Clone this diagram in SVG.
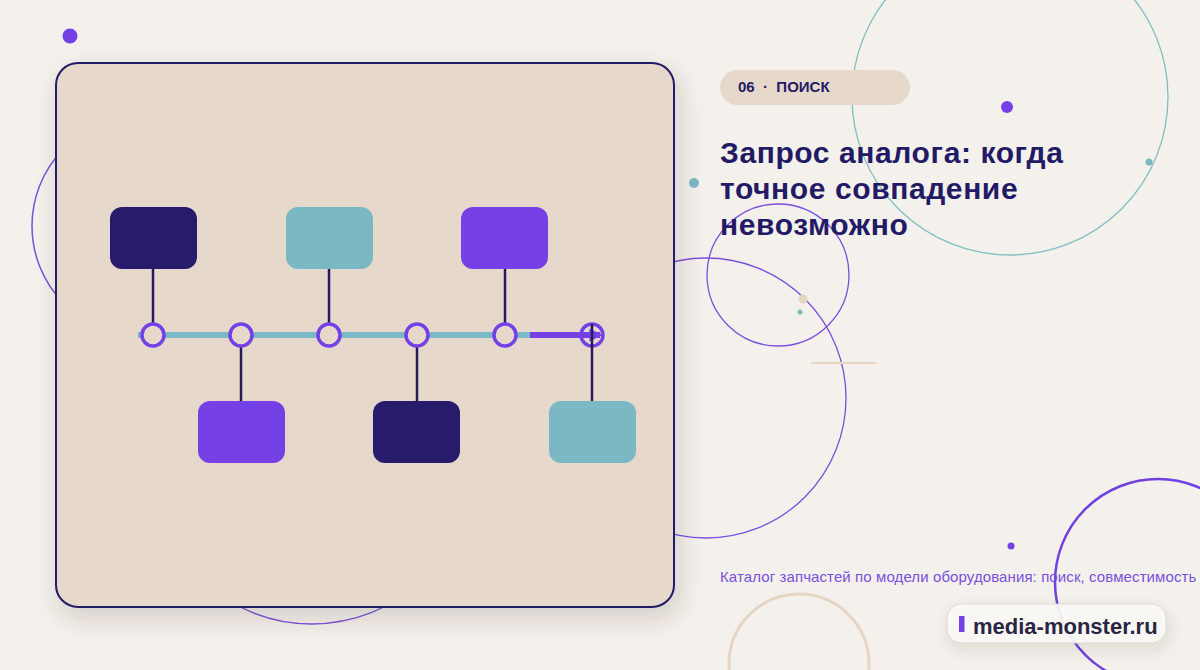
<svg xmlns="http://www.w3.org/2000/svg" width="1200" height="670" viewBox="0 0 1200 670">
  <defs>
    <filter id="shadow" x="-20%" y="-20%" width="140%" height="140%">
      <feDropShadow dx="4" dy="10" stdDeviation="12" flood-color="#3a2a20" flood-opacity="0.18"/>
    </filter>
    <filter id="shadow2" x="-20%" y="-40%" width="140%" height="200%">
      <feDropShadow dx="2" dy="6" stdDeviation="8" flood-color="#3a2a20" flood-opacity="0.12"/>
    </filter>
    <marker id="arrow" viewBox="0 0 10 10" refX="8" refY="5" markerWidth="2.2" markerHeight="2.2" orient="auto">
      <path d="M0,0 L10,5 L0,10 Z" fill="#7540e6"/>
    </marker>
  </defs>
  <style>
    .deco { fill: none; }
    .navy { fill: #261c6b; }
    .teal { fill: #7ab8c4; }
    .purple { fill: #7540e6; }
    .stem { stroke: #241a5e; stroke-width: 2.5; }
    .dot { fill: #e6d9cb; stroke: #7540e6; stroke-width: 3.5; }
    .sans { font-family: "Liberation Sans", Arial, sans-serif; }
  </style>

  <rect width="1200" height="670" fill="#f4f1ec"/>

  <!-- decorative background -->
  <g id="decor">
    <circle class="deco" cx="1010" cy="97" r="158" stroke="#7fbfc2" stroke-width="1.3"/>
    <circle class="deco" cx="778" cy="275" r="71" stroke="#7a4fdc" stroke-width="1.3"/>
    <circle class="deco" cx="706" cy="398" r="140" stroke="#7a4fdc" stroke-width="1.3"/>
    <circle class="deco" cx="142" cy="226" r="110" stroke="#7a4fdc" stroke-width="1.5"/>
    <circle class="deco" cx="312" cy="463" r="161" stroke="#7a4fdc" stroke-width="1.3"/>
    <circle class="deco" cx="1158" cy="582" r="103" stroke="#7040e0" stroke-width="2.5"/>
    <circle class="deco" cx="799" cy="664" r="70" stroke="#e6d5c3" stroke-width="3"/>
    <line x1="811" y1="363" x2="876" y2="363" stroke="#e6d5c3" stroke-width="2"/>
    <circle cx="70" cy="36" r="7.5" fill="#7540e6"/>
    <circle cx="1007" cy="107" r="6" fill="#7540e6"/>
    <circle cx="694" cy="183" r="5" fill="#7ab8c4"/>
    <circle cx="1149" cy="162" r="3.5" fill="#7ab8c4"/>
    <circle cx="803" cy="299" r="4.5" fill="#e6d5c3"/>
    <circle cx="800" cy="312" r="2.5" fill="#7ab8c4"/>
    <circle cx="1011" cy="546" r="3.5" fill="#7540e6"/>
  </g>

  <!-- card -->
  <g id="card">
    <rect x="56" y="63" width="618" height="544" rx="22" fill="#e6d9cb" stroke="#241a66" stroke-width="2" filter="url(#shadow)"/>
  </g>

  <!-- connectors -->
  <g id="connectors">
    <line x1="138" y1="335" x2="532" y2="335" stroke="#7ab8c4" stroke-width="6"/>
    <line x1="530" y1="335" x2="600" y2="335" stroke="#7540e6" stroke-width="6" marker-end="url(#arrow)"/>
    <line class="stem" x1="153" y1="269" x2="153" y2="324"/>
    <line class="stem" x1="329" y1="269" x2="329" y2="324"/>
    <line class="stem" x1="505" y1="269" x2="505" y2="324"/>
    <line class="stem" x1="241" y1="346" x2="241" y2="401"/>
    <line class="stem" x1="417" y1="346" x2="417" y2="401"/>
  </g>

  <!-- timeline points -->
  <g id="point-1"><circle class="dot" cx="153" cy="335" r="11"/></g>
  <g id="point-2"><circle class="dot" cx="241" cy="335" r="11"/></g>
  <g id="point-3"><circle class="dot" cx="329" cy="335" r="11"/></g>
  <g id="point-4"><circle class="dot" cx="417" cy="335" r="11"/></g>
  <g id="point-5"><circle class="dot" cx="505" cy="335" r="11"/></g>
  <g id="point-6">
    <circle cx="592" cy="335" r="11" fill="none" stroke="#7540e6" stroke-width="3.5"/>
    <line x1="530" y1="335" x2="600" y2="335" stroke="#7540e6" stroke-width="6"/>
    <line class="stem" x1="592" y1="324" x2="592" y2="401"/>
  </g>

  <!-- boxes -->
  <g id="box-1"><rect class="navy" x="110" y="207" width="87" height="62" rx="12"/></g>
  <g id="box-2"><rect class="purple" x="198" y="401" width="87" height="62" rx="12"/></g>
  <g id="box-3"><rect class="teal" x="286" y="207" width="87" height="62" rx="12"/></g>
  <g id="box-4"><rect class="navy" x="373" y="401" width="87" height="62" rx="12"/></g>
  <g id="box-5"><rect class="purple" x="461" y="207" width="87" height="62" rx="12"/></g>
  <g id="box-6"><rect class="teal" x="549" y="401" width="87" height="62" rx="12"/></g>

  <!-- right side -->
  <g id="tag">
    <rect x="720" y="70" width="190" height="35" rx="17.5" fill="#e6d8ca"/>
    <text class="sans" x="738" y="92" font-size="15" font-weight="bold" fill="#241a66" xml:space="preserve">06  ·  ПОИСК</text>
  </g>
  <g id="title">
    <text class="sans" font-size="30" font-weight="bold" fill="#231a66" letter-spacing="0.6">
      <tspan x="720" y="163">Запрос аналога: когда</tspan>
      <tspan x="720" y="199">точное совпадение</tspan>
      <tspan x="720" y="235">невозможно</tspan>
    </text>
  </g>
  <g id="subtitle">
    <text class="sans" x="720" y="582" font-size="15" fill="#7a4fdc" letter-spacing="0.1">Каталог запчастей по модели оборудования: поиск, совместимость</text>
  </g>
  <g id="brand">
    <rect x="947" y="604" width="219" height="39" rx="14" fill="#faf8f5" fill-opacity="0.92" stroke="#dcd6d0" stroke-width="1" filter="url(#shadow2)"/>
    <rect x="959" y="616" width="5.5" height="16" fill="#7540e6"/>
    <text class="sans" x="973" y="634" font-size="22" font-weight="bold" fill="#2a2542">media-monster.ru</text>
  </g>
</svg>
